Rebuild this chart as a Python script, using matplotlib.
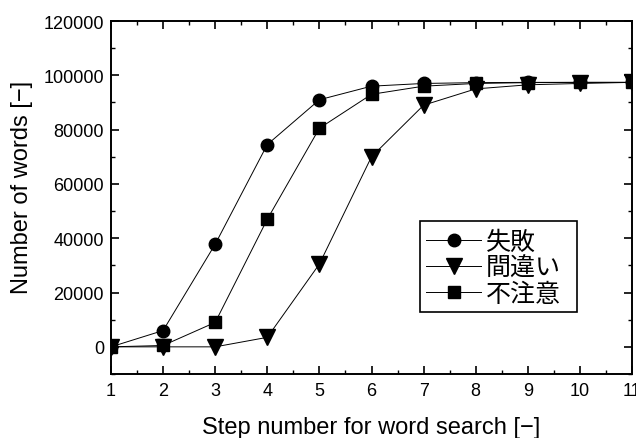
import matplotlib
matplotlib.use("Agg")
import matplotlib.pyplot as plt
from matplotlib.patches import Rectangle
from matplotlib.ticker import MultipleLocator

plt.rcParams['font.family'] = ['Liberation Sans', 'Noto Sans CJK JP', 'DejaVu Sans']

steps = [1, 2, 3, 4, 5, 6, 7, 8, 9, 10, 11]
shippai = [0, 6000, 37800, 74500, 91000, 96000, 97000, 97300, 97400, 97400, 97400]
machigai = [0, 0, 0, 3500, 30500, 70000, 89000, 95000, 96500, 97000, 97400]
fuchui = [0, 500, 9000, 47000, 80500, 93000, 96000, 97000, 97300, 97400, 97400]
labels = ['失敗', '間違い', '不注意']

W, H = 636, 439
fig = plt.figure(figsize=(W/100, H/100), dpi=100, facecolor='w')
ax = fig.add_axes([111/W, 1 - 375/H, (632-111)/W, (375-22)/H])

ax.plot(steps, shippai, marker='o', label=labels[0], markersize=9,
        color='black', linewidth=0.7)
ax.plot(steps, machigai, marker='v', label=labels[1], markersize=11,
        color='black', linewidth=0.7)
ax.plot(steps, fuchui, marker='s', label=labels[2], markersize=8,
        color='black', linewidth=0.7)

ax.set_xlim(1, 11)
ax.set_ylim(-10000, 120000)
ax.xaxis.set_major_locator(MultipleLocator(1))
ax.xaxis.set_minor_locator(MultipleLocator(0.5))
ax.yaxis.set_major_locator(MultipleLocator(20000))
ax.yaxis.set_minor_locator(MultipleLocator(10000))
ax.tick_params(which='both', direction='in', top=True, right=True, labelsize=13)
ax.tick_params(which='major', length=6, width=1.2, pad=6)
ax.tick_params(which='minor', length=3, width=1.0)
ax.tick_params(axis='y', which='major', pad=5)
for s in ax.spines.values():
    s.set_linewidth(1.4)

ax.set_xlabel('Step number for word search [−]', fontsize=17, labelpad=12)
ax.set_ylabel('Number of words [−]', fontsize=17)
ax.yaxis.set_label_coords(-0.15, 0.53)

# legend content without its own frame; the box is drawn separately
leg = ax.legend(loc='upper left', bbox_to_anchor=(426/W, 1 - 230/H),
                bbox_transform=fig.transFigure, handlelength=2.2,
                frameon=False, borderpad=0, labelspacing=0.0,
                handletextpad=0.2, borderaxespad=0,
                prop={'family': ['Noto Sans CJK JP'], 'size': 18})
fig.patches.append(Rectangle((420/W, 1 - 313/H), (577-420)/W, (313-222)/H,
                             transform=fig.transFigure, fill=False,
                             edgecolor='black', linewidth=1.2, zorder=5))

fig.savefig('out.png', dpi=100)
